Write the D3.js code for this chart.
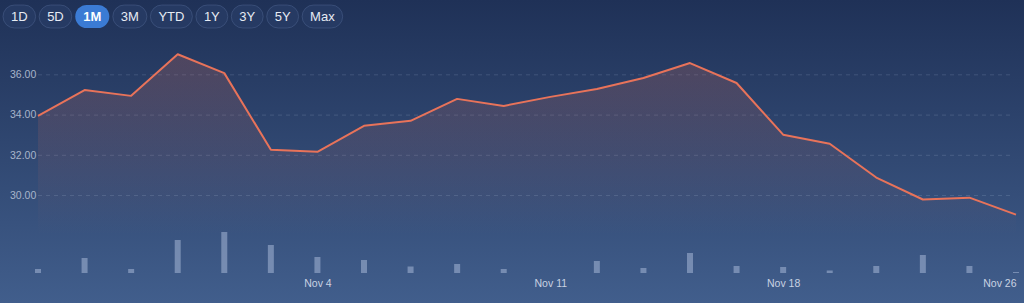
<!DOCTYPE html>
<html>
<head>
<meta charset="utf-8">
<script src="https://cdn.jsdelivr.net/npm/d3@7"></script>
<style>
  html, body { margin: 0; padding: 0; background: #2a3f68; }
  svg { display: block; font-family: "Liberation Sans", Arial, sans-serif; }
</style>
</head>
<body>
<svg class="chart"></svg>
<script>
const WIDTH = 1024;
const HEIGHT = 303;

const ranges = ["1D", "5D", "1M", "3M", "YTD", "1Y", "3Y", "5Y", "Max"];
const activeRange = "1M";

const dates = ["Oct 25", "Oct 28", "Oct 29", "Oct 30", "Oct 31", "Nov 1",
  "Nov 4", "Nov 5", "Nov 6", "Nov 7", "Nov 8",
  "Nov 11", "Nov 12", "Nov 13", "Nov 14", "Nov 15",
  "Nov 18", "Nov 19", "Nov 20", "Nov 21", "Nov 22", "Nov 26"];
const prices = [33.94, 35.22, 34.93, 37.00, 36.06, 32.25, 32.15, 33.44, 33.69, 34.78, 34.43,
  34.88, 35.27, 35.82, 36.56, 35.57, 33.00, 32.55, 30.87, 29.78, 29.87, 29.03];
// volume in millions
const volumes = [0.4, 1.5, 0.4, 3.3, 4.1, 2.8, 1.6, 1.3, 0.65, 0.9, 0.4,
  0, 1.2, 0.5, 2.0, 0.7, 0.6, 0.25, 0.7, 1.8, 0.7, 0.1];
const priceTicks = [30, 32, 34, 36];
const dateTicks = ["Nov 4", "Nov 11", "Nov 18", "Nov 26"];

const svg = d3.select(".chart")
  .attr("width", WIDTH)
  .attr("height", HEIGHT);

const defs = svg.append("defs");
const bg = defs.append("linearGradient")
  .attr("id", "bg").attr("x1", 0).attr("y1", 0).attr("x2", 0).attr("y2", 1);
bg.append("stop").attr("offset", "0%").attr("stop-color", "#1f3157");
bg.append("stop").attr("offset", "100%").attr("stop-color", "#415e8c");

const areaGrad = defs.append("linearGradient")
  .attr("id", "areaFill").attr("gradientUnits", "userSpaceOnUse")
  .attr("x1", 0).attr("y1", 50).attr("x2", 0).attr("y2", 235);
areaGrad.append("stop").attr("offset", "0%").attr("stop-color", "#e8735a").attr("stop-opacity", 0.22);
areaGrad.append("stop").attr("offset", "100%").attr("stop-color", "#e8735a").attr("stop-opacity", 0.0);

svg.append("rect")
  .attr("width", WIDTH).attr("height", HEIGHT)
  .attr("fill", "url(#bg)");

// scales
const x = d3.scalePoint().domain(dates).range([38, 1016]);
const y = d3.scaleLinear().domain([28, 38]).range([235.3, 34.1]);
const vy = d3.scaleLinear().domain([0, 4.1]).range([273, 232]);

// grid + y labels
const yAxis = d3.axisLeft(y).tickValues(priceTicks)
  .tickFormat(d3.format(".2f"))
  .tickSize(-(1014 - 38)).tickPadding(0);
const yG = svg.append("g")
  .attr("transform", "translate(38,0)")
  .call(yAxis);
yG.select(".domain").remove();
yG.selectAll(".tick line")
  .attr("stroke", "rgba(200,215,240,0.16)")
  .attr("stroke-dasharray", "4,4");
yG.selectAll(".tick text")
  .attr("x", -28)
  .attr("text-anchor", "start")
  .attr("fill", "#a8b4ca")
  .attr("font-size", 10.5);

// volume bars
svg.append("g").selectAll("rect")
  .data(volumes)
  .join("rect")
  .attr("x", (d, i) => x(dates[i]) - 3)
  .attr("width", 6)
  .attr("y", d => vy(d))
  .attr("height", d => vy(0) - vy(d))
  .attr("fill", "rgba(175,192,222,0.5)");

// area + line
const area = d3.area()
  .x((d, i) => x(dates[i]))
  .y0(235)
  .y1(d => y(d));
svg.append("path")
  .datum(prices)
  .attr("d", area)
  .attr("fill", "url(#areaFill)");

const line = d3.line()
  .x((d, i) => x(dates[i]))
  .y(d => y(d));
svg.append("path")
  .datum(prices)
  .attr("d", line)
  .attr("fill", "none")
  .attr("stroke", "#e8735a")
  .attr("stroke-width", 2)
  .attr("stroke-linejoin", "round");

// x axis labels
const xAxis = d3.axisBottom(x).tickValues(dateTicks).tickSize(0).tickPadding(0);
const xG = svg.append("g")
  .attr("transform", "translate(0,280)")
  .call(xAxis);
xG.select(".domain").remove();
xG.selectAll(".tick text")
  .attr("fill", "#c9d2e2")
  .attr("font-size", 10.5)
  .attr("dy", "0.71em")
  .attr("text-anchor", d => d === dates[dates.length - 1] ? "end" : "middle");

// range buttons
const btnG = svg.append("g");
let bx = 3;
ranges.forEach(r => {
  const g = btnG.append("g");
  const active = r === activeRange;
  const rect = g.append("rect");
  const t = g.append("text")
    .attr("y", 21)
    .attr("font-size", 13)
    .attr("font-weight", active ? "bold" : "normal")
    .attr("fill", active ? "#ffffff" : "#e6ebf3")
    .text(r);
  const w = t.node().getComputedTextLength() + 16;
  t.attr("x", bx + 8);
  rect.attr("x", bx).attr("y", 5)
    .attr("width", w).attr("height", 23)
    .attr("rx", 11.5)
    .attr("fill", active ? "#3b7bd4" : "#263a63")
    .attr("stroke", active ? "none" : "rgba(120,145,190,0.25)");
  bx += w + 3.5;
});
</script>
</body>
</html>
